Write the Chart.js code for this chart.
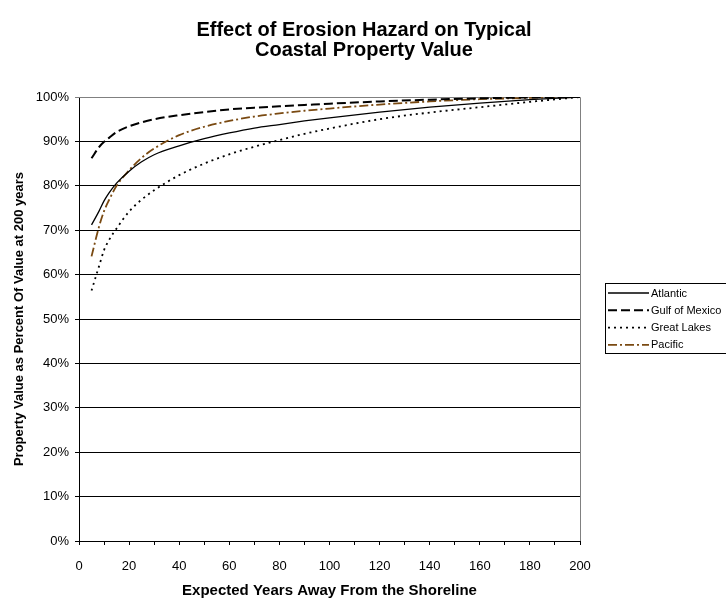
<!DOCTYPE html>
<html>
<head>
<meta charset="utf-8">
<script src="https://cdn.jsdelivr.net/npm/chart.js@4/dist/chart.umd.min.js"></script>
<style>
html,body{margin:0;padding:0;background:#fff;}
#wrap{width:726px;height:601px;}
</style>
</head>
<body>
<div id="wrap"><canvas id="c" width="726" height="601"></canvas></div>
<script>
const titleLines = ["Effect of Erosion Hazard on Typical", "Coastal Property Value"];
const xTitle = "Expected Years Away From the Shoreline";
const yTitle = "Property Value as Percent Of Value at 200 years";
const seriesNames = ["Atlantic", "Gulf of Mexico", "Great Lakes", "Pacific"];
const years = [5, 8, 10, 12, 15, 20, 25, 30, 40, 50, 60, 70, 80, 90, 100, 120, 140, 160, 180, 200];
const atlantic = [71.2, 74.3, 76.6, 78.4, 80.6, 83.3, 85.4, 87.0, 89.0, 90.6, 91.9, 93.0, 93.8, 94.6, 95.3, 96.6, 97.7, 98.6, 99.4, 100];
const gulf = [86.2, 88.7, 89.9, 90.8, 92.1, 93.4, 94.3, 95.0, 95.9, 96.6, 97.2, 97.6, 97.9, 98.2, 98.5, 99.0, 99.4, 99.7, 99.9, 100];
const greatLakes = [56.4, 61.9, 65.5, 67.8, 70.4, 74.2, 76.9, 79.0, 82.4, 85.0, 87.1, 88.8, 90.3, 91.7, 92.9, 95.0, 96.5, 97.7, 98.9, 100];
const pacific = [64.1, 70.8, 74.3, 76.8, 80.0, 83.5, 86.3, 88.4, 91.4, 93.3, 94.6, 95.6, 96.3, 96.9, 97.4, 98.3, 99.0, 99.5, 99.8, 100];

const FONT = "'Liberation Sans', Arial, sans-serif";
function pts(vals){ return years.map((x,i)=>({x:x, y:vals[i]})); }

const styles = [
  {color:'#000000', dash:[], width:1.3},
  {color:'#000000', dash:[9,4], width:2},
  {color:'#000000', dash:[2,4], width:1.8},
  {color:'#7a4a12', dash:[9,3,2,3], width:1.8}
];
const seriesData = [atlantic, gulf, greatLakes, pacific];

const datasets = seriesNames.map((n,i)=>({
  label:n,
  data:pts(seriesData[i]),
  borderColor:styles[i].color,
  borderDash:styles[i].dash,
  borderWidth:styles[i].width,
  pointRadius:0,
  fill:false,
  cubicInterpolationMode:'monotone'
}));

const deco = {
  id:'deco',
  beforeDatasetsDraw(chart){
    const {ctx, chartArea:a} = chart;
    ctx.save();
    ctx.strokeStyle = '#808080';
    ctx.lineWidth = 1;
    ctx.beginPath();
    ctx.moveTo(a.left, a.top + 0.5);
    ctx.lineTo(a.right + 0.5, a.top + 0.5);
    ctx.lineTo(a.right + 0.5, a.bottom);
    ctx.stroke();
    ctx.restore();
  },
  afterDraw(chart){
    const {ctx} = chart;
    ctx.save();
    ctx.fillStyle = '#000';
    ctx.textAlign = 'center';
    ctx.textBaseline = 'middle';
    ctx.font = "bold 20px " + FONT;
    ctx.fillText(titleLines[0], 364, 30);
    ctx.fillText(titleLines[1], 364, 50);
    // legend
    const lx = 605, ly = 283;
    ctx.strokeStyle = '#000';
    ctx.lineWidth = 1;
    ctx.strokeRect(lx + 0.5, ly + 0.5, 140, 70);
    ctx.font = "11px " + FONT;
    ctx.textAlign = 'left';
    seriesNames.forEach((n,i)=>{
      const y = 293 + i*17.3;
      ctx.save();
      ctx.strokeStyle = styles[i].color;
      ctx.lineWidth = styles[i].width;
      ctx.setLineDash(styles[i].dash);
      ctx.beginPath();
      ctx.moveTo(608, y);
      ctx.lineTo(649, y);
      ctx.stroke();
      ctx.restore();
      ctx.fillStyle = '#000';
      ctx.fillText(n, 651, y + 0.5);
    });
    ctx.restore();
  }
};

new Chart(document.getElementById('c'), {
  type:'line',
  data:{datasets:datasets},
  options:{
    responsive:false,
    animation:false,
    devicePixelRatio:1,
    layout:{padding:{top:97, right:146, left:0, bottom:0}},
    plugins:{legend:{display:false}, title:{display:false}, tooltip:{enabled:false}},
    scales:{
      x:{
        type:'linear', min:0, max:200,
        afterFit(s){ s.height = 60; },
        ticks:{stepSize:10, autoSkip:false, maxRotation:0, padding:14, color:'#000',
          font:{family:FONT, size:13},
          callback:(v)=> (v % 20 === 0 ? String(v) : '')},
        grid:{drawOnChartArea:false, drawTicks:true, tickLength:4, color:'#000'},
        border:{color:'#000', width:1},
        title:{display:true, text:xTitle, color:'#000', font:{family:FONT, size:15, weight:'bold'}, padding:{top:0, bottom:1}}
      },
      y:{
        min:0, max:100,
        afterFit(s){ s.width = 79; },
        ticks:{stepSize:10, color:'#000', padding:6, font:{family:FONT, size:13},
          callback:(v)=> v + '%'},
        grid:{color:(c)=> (c.tick && c.tick.value === 100 ? '#808080' : '#000'), lineWidth:1, tickLength:4, drawTicks:true},
        border:{color:'#000', width:1},
        title:{display:true, text:yTitle, color:'#000', font:{family:FONT, size:13, weight:'bold'}, padding:{top:12, bottom:0}}
      }
    }
  },
  plugins:[deco]
});
</script>
</body>
</html>
